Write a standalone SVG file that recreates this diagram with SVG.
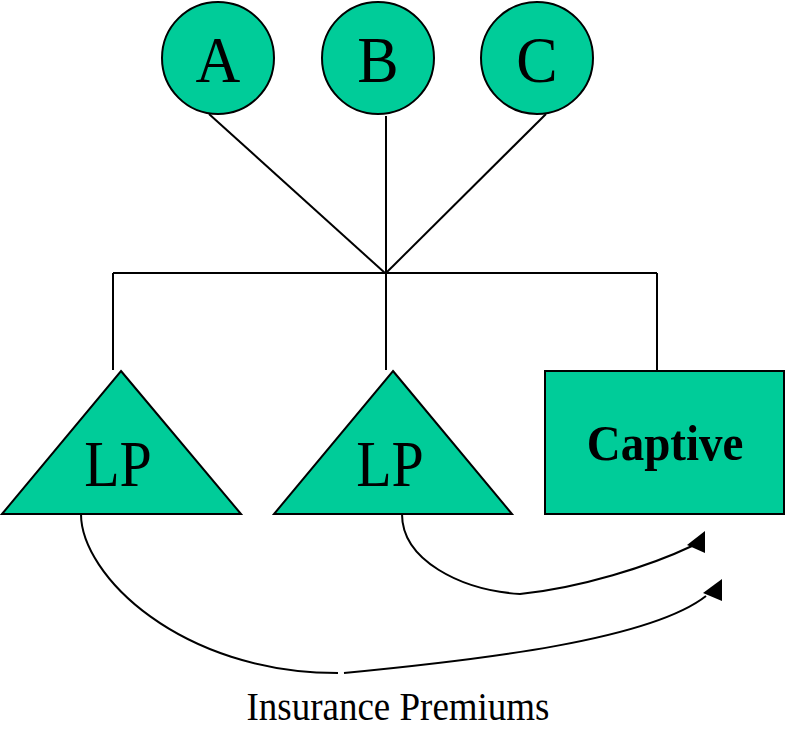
<svg xmlns="http://www.w3.org/2000/svg" width="786" height="742" viewBox="0 0 786 742">
<style>
.shape{fill:#00CC99;stroke:#000;stroke-width:2}
.ln{fill:none;stroke:#000;stroke-width:2}
.t{font-family:"Liberation Serif","Times New Roman",serif;fill:#000;text-anchor:middle}
.big{font-size:62px}
.lp{font-size:58px}
.bold{font-size:47px;font-weight:bold}
.lbl{font-size:37px}
</style>
<rect width="786" height="742" fill="#fff"/>
<g id="connectors">
<line class="ln" x1="209" y1="114" x2="385" y2="273"/>
<line class="ln" x1="386" y1="116" x2="386" y2="273"/>
<line class="ln" x1="546" y1="114" x2="386" y2="273"/>
<line class="ln" x1="113" y1="273" x2="657" y2="273"/>
<line class="ln" x1="113" y1="273" x2="113" y2="370"/>
<line class="ln" x1="386" y1="273" x2="386" y2="370"/>
<line class="ln" x1="657" y1="273" x2="657" y2="371"/>
<path class="ln" d="M81,514 C81,575 180,673 338,673"/>
<path class="ln" d="M344,673 C480,660 650,640 706,596"/>
<path class="ln" d="M402,514 C402,560 460,590 520,594 C580,588 650,566 692,546"/>
<polygon points="705,531 705,553 687,545" fill="#000"/>
<polygon points="722,579 722,601 703,593" fill="#000"/>
</g>
<g id="nodeA">
<circle class="shape" cx="218" cy="58" r="56"/>
<text class="t big" transform="translate(218 82) scale(1 1.05)">A</text>
</g>
<g id="nodeB">
<circle class="shape" cx="378" cy="58" r="56"/>
<text class="t big" transform="translate(378 82) scale(1 1.05)">B</text>
</g>
<g id="nodeC">
<circle class="shape" cx="537" cy="58" r="56"/>
<text class="t big" transform="translate(537 82) scale(1 1.05)">C</text>
</g>
<g id="lp1">
<polygon class="shape" points="121,371 241,514 2,514"/>
<text class="t lp" transform="translate(118 486) scale(1 1.12)">LP</text>
</g>
<g id="lp2">
<polygon class="shape" points="393,371 512,514 274,514"/>
<text class="t lp" transform="translate(390 486) scale(1 1.12)">LP</text>
</g>
<g id="captive">
<rect class="shape" x="545" y="371" width="239" height="143"/>
<text class="t bold" transform="translate(665 460) scale(1 1.06)">Captive</text>
</g>
<g id="label">
<text class="t lbl" transform="translate(398 720) scale(1 1.1)">Insurance Premiums</text>
</g>
</svg>
